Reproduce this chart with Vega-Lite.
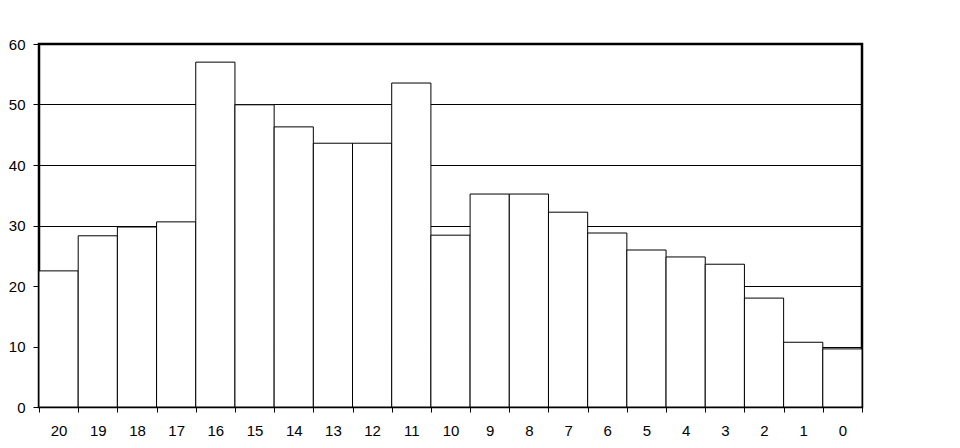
{
  "$schema": "https://vega.github.io/schema/vega-lite/v6.json",
  "autosize": {"type": "none"},
  "width": 823,
  "height": 363,
  "padding": {"left": 39, "top": 44, "right": 98, "bottom": 41},
  "background": "white",
  "config": {
    "view": {"stroke": "black", "strokeWidth": 2.5},
    "axis": {"labelFont": "Liberation Sans", "labelFontSize": 15, "labelColor": "black", "tickColor": "black", "tickWidth": 1, "domain": false, "gridColor": "black", "gridOpacity": 1, "gridWidth": 1}
  },
  "data": {"values": [
    {"k": "20", "v": 22.5},
    {"k": "19", "v": 28.3},
    {"k": "18", "v": 29.75},
    {"k": "17", "v": 30.6},
    {"k": "16", "v": 57.0},
    {"k": "15", "v": 49.95},
    {"k": "14", "v": 46.3},
    {"k": "13", "v": 43.6},
    {"k": "12", "v": 43.6},
    {"k": "11", "v": 53.55},
    {"k": "10", "v": 28.4},
    {"k": "9", "v": 35.2},
    {"k": "8", "v": 35.2},
    {"k": "7", "v": 32.2},
    {"k": "6", "v": 28.76},
    {"k": "5", "v": 25.95},
    {"k": "4", "v": 24.8},
    {"k": "3", "v": 23.6},
    {"k": "2", "v": 18.0},
    {"k": "1", "v": 10.7},
    {"k": "0", "v": 9.6}
  ]},
  "mark": {"type": "bar", "fill": "white", "stroke": "black", "strokeWidth": 1, "cornerRadius": 0},
  "encoding": {
    "x": {"field": "k", "type": "ordinal", "sort": null,
      "scale": {"paddingInner": 0, "paddingOuter": 0},
      "axis": {"title": null, "labelAngle": 0, "tickBand": "extent", "tickSize": 5, "labelPadding": 11, "grid": false}},
    "y": {"field": "v", "type": "quantitative",
      "scale": {"domain": [0, 60], "nice": false},
      "axis": {"title": null, "values": [0, 10, 20, 30, 40, 50, 60], "tickSize": 6, "labelPadding": 8, "grid": true}}
  }
}
